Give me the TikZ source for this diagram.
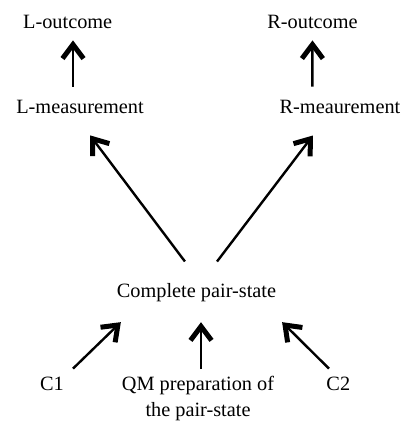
\documentclass[tikz,border=0pt]{standalone}
\usepackage{fontspec}
\setmainfont{Liberation Serif}
\usetikzlibrary{arrows.meta}

\begin{document}
\begin{tikzpicture}[x=1pt,y=-1pt]
\useasboundingbox (0,0) rectangle (409,435);
\begin{scope}[every node/.style={inner sep=0pt,font=\fontsize{20.3}{25.4}\selectfont}]
    \node (lout) at (67.7, 28.3) [anchor=base] {L-outcome};
    \node (rout) at (312.5, 28.3) [anchor=base] {R-outcome};

    \node (lmeas) at (80, 113.5) [anchor=base] {L-measurement};
    \node (rmeas) at (340, 113.5) [anchor=base] {R-meaurement};

    \node (cps) at (196.5, 297) [anchor=base] {Complete pair-state};

    \node (c1) at (52, 390) [anchor=base] {C1};
    \node (qm) at (198, 376.3) [anchor=north,align=center] {QM preparation of\\the pair-state};
    \node (c2) at (338.3, 390) [anchor=base] {C2};
\end{scope}

\begin{scope}[>={Straight Barb[length=14pt,width=21pt,line width=5pt]},
              every edge/.style={draw=black,line width=2.4pt}]
    \path [->] ([xshift=-7pt]lmeas.north) edge[shorten <=13.3pt, shorten >=11.7pt] ([xshift=5.3pt]lout.south);
    \path [->] ([xshift=-27.7pt]rmeas.north) edge[shorten <=13.3pt, shorten >=11.7pt] (rout.south);

    \path [->] ([xshift=4.4pt]cps.north) edge[shorten <=26.6pt, shorten >=26.9pt] ([xshift=-6.1pt]lmeas.south);
    \path [->] ([xshift=4.4pt]cps.north) edge[shorten <=26.6pt, shorten >=27.2pt] ([xshift=-10.7pt]rmeas.south);

    \path [->] ([xshift=13pt]c1.north) edge[shorten <=11.2pt, shorten >=29.6pt] ([xshift=-54.4pt]cps.south);
    \path [->] ([xshift=3pt]qm.north) edge[shorten <=7.3pt, shorten >=20.7pt] ([xshift=4.5pt]cps.south);
    \path [->] ([xshift=-1.5pt]c2.north) edge[shorten <=11pt, shorten >=29.3pt] ([xshift=64.8pt]cps.south);
\end{scope}
\end{tikzpicture}
\end{document}
